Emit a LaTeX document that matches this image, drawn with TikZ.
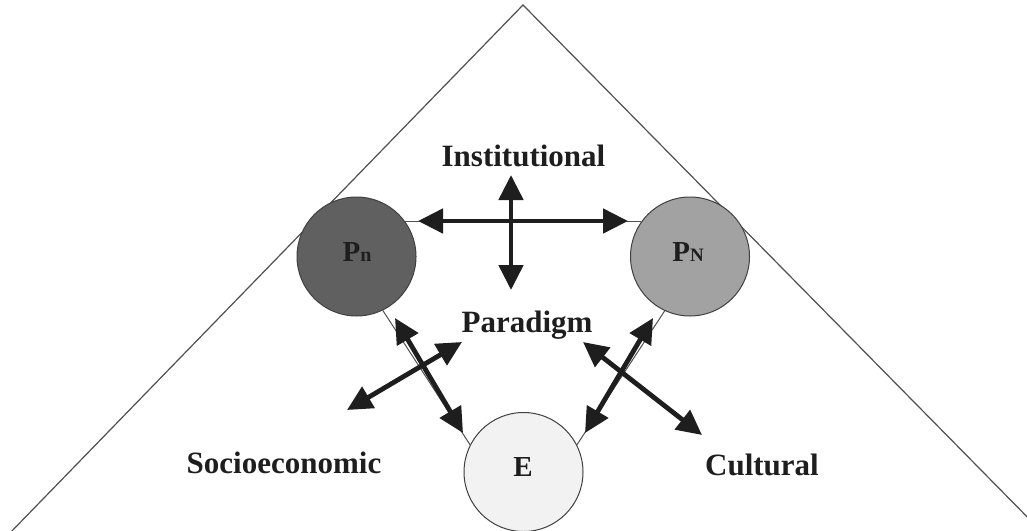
\documentclass[tikz,border=0pt]{standalone}
\usepackage{fontspec}
\setmainfont{Liberation Serif}
\usetikzlibrary{arrows.meta}
\definecolor{ink}{HTML}{1E1E1E}
\definecolor{lineg}{HTML}{505050}
\definecolor{darkfill}{HTML}{606060}
\definecolor{midfill}{HTML}{A2A2A2}
\definecolor{lightfill}{HTML}{F2F2F2}
\begin{document}
\begin{tikzpicture}[x=0.5pt,y=-0.5pt,
  frame/.style={draw=lineg,line width=0.6pt},
  circ/.style={circle,draw=ink!85,line width=0.5pt,minimum size=59.5pt,inner sep=0pt},
  thinline/.style={draw=lineg,line width=0.5pt},
  bigarrow/.style={line width=2.4pt,draw=ink,
    {Triangle[length=12.5pt,width=12pt]}-{Triangle[length=12.5pt,width=12pt]}},
  lbl/.style={font=\bfseries\fontsize{15.5}{18}\selectfont,text=ink,anchor=base,inner sep=0pt},
  plbl/.style={font=\bfseries\fontsize{14.5}{17}\selectfont,text=ink,anchor=base,inner sep=0pt}]
\clip (0,0) rectangle (1027,530);
\fill[white] (0,0) rectangle (1027,530);
% big triangle
\coordinate (apex) at (523,5);
\coordinate (leftend) at (8,535);
\coordinate (rightend) at (1045,535);
\draw[frame] (leftend) -- (apex) -- (rightend);
% circles
\node[circ,fill=darkfill] (Pn) at (356.5,256.5) {};
\node[circ,fill=midfill] (PN) at (690,256.5) {};
\node[circ,fill=lightfill] (E) at (523.5,472) {};
\node[plbl] (Pnl) at (357,261) {P\fontsize{10}{12}\selectfont n};
\node[plbl] (PNl) at (688,261) {P\fontsize{9.5}{12}\selectfont N};
\node[plbl] (El) at (523,476) {E};
% thin connectors
\draw[thinline] (Pn.36) -- (PN.144);
\draw[thinline] (Pn.-64) -- (E.153);
\draw[thinline] (PN.-115) -- (E.27);
% labels
\node[lbl] (inst) at (523.5,166) {Institutional};
\node[lbl] (para) at (527,332) {Paradigm};
\node[lbl] (socio) at (284,473) {Socioeconomic};
\node[lbl] (cult) at (762,475) {Cultural};
% arrow end points
\coordinate (h1) at (418,221);
\coordinate (h2) at (628,221);
\coordinate (v1) at (511,175);
\coordinate (v2) at (511,290);
\coordinate (l1) at (395,318);
\coordinate (l2) at (463,433);
\coordinate (r1) at (653,318);
\coordinate (r2) at (585,433);
\coordinate (s1) at (347,410);
\coordinate (s2) at (462,342);
\coordinate (c1) at (583,342);
\coordinate (c2) at (702,435);
\draw[bigarrow] (h1) -- (h2);
\draw[bigarrow] (v1) -- (v2);
\draw[bigarrow] (l1) -- (l2);
\draw[bigarrow] (r1) -- (r2);
\draw[bigarrow] (s1) -- (s2);
\draw[bigarrow] (c1) -- (c2);
\end{tikzpicture}
\end{document}
